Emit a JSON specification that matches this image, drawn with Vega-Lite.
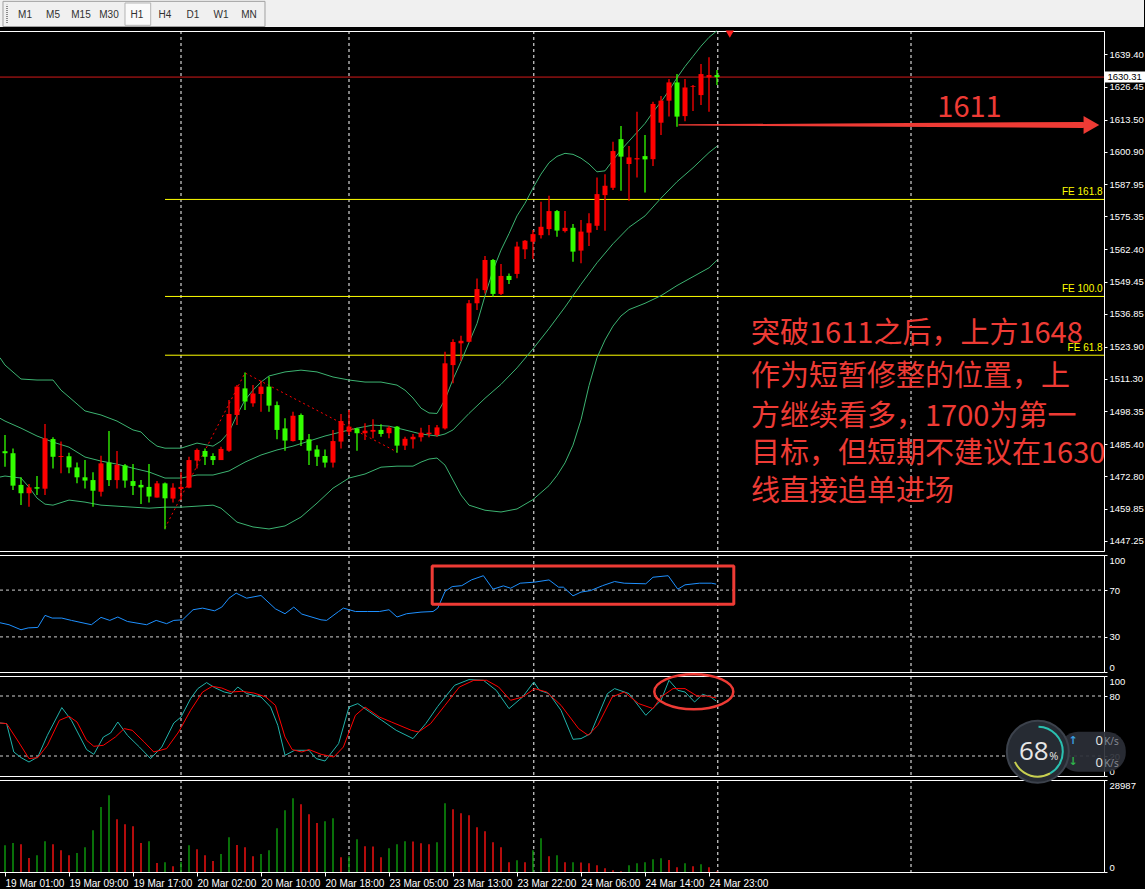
{
"$schema":"https://vega.github.io/schema/vega-lite/v6.json",
"background":"#000000",
"padding":{"left":-2,"top":0,"right":0,"bottom":0},
"bounds":"flush",
"spacing":4,
"config":{
 "view":{"stroke":"#ffffff","strokeWidth":1,"strokeJoin":"bevel"},
 "axis":{"labelColor":"#ffffff","tickColor":"#ffffff","domainColor":"#ffffff","labelFont":"Liberation Sans","labelFontSize":9.5,"grid":false,"tickSize":3,"labelPadding":2},
 "text":{"font":"Liberation Sans"}
},
"resolve":{"scale":{"x":"independent","y":"independent","color":"independent","size":"independent"}},
"datasets":{
 "grid":[{"i":22},{"i":43},{"i":66.1},{"i":89.1},{"i":113.25}],
 "k":[{"i":0,"o":1482.6,"h":1489.0,"l":1476.5,"c":1481.8},{"i":1,"o":1481.8,"h":1483.7,"l":1467.3,"c":1469.0},{"i":2,"o":1469.3,"h":1472.3,"l":1461.4,"c":1466.0},{"i":3,"o":1466.0,"h":1469.7,"l":1460.7,"c":1468.3},{"i":4,"o":1468.4,"h":1472.8,"l":1465.3,"c":1467.8},{"i":5,"o":1467.8,"h":1493.3,"l":1465.3,"c":1487.7},{"i":6,"o":1487.4,"h":1488.1,"l":1475.8,"c":1480.4},{"i":7,"o":1480.3,"h":1486.4,"l":1473.9,"c":1480.7},{"i":8,"o":1480.6,"h":1482.0,"l":1473.9,"c":1476.2},{"i":9,"o":1476.2,"h":1478.1,"l":1469.9,"c":1472.3},{"i":10,"o":1472.3,"h":1479.1,"l":1467.9,"c":1471.0},{"i":11,"o":1471.2,"h":1474.3,"l":1460.7,"c":1467.0},{"i":12,"o":1466.6,"h":1480.8,"l":1464.7,"c":1477.8},{"i":13,"o":1478.1,"h":1490.6,"l":1468.9,"c":1471.2},{"i":14,"o":1471.2,"h":1482.7,"l":1467.9,"c":1477.2},{"i":15,"o":1477.0,"h":1477.5,"l":1468.2,"c":1471.0},{"i":16,"o":1470.8,"h":1477.5,"l":1465.3,"c":1468.9},{"i":17,"o":1469.3,"h":1471.2,"l":1461.8,"c":1468.3},{"i":18,"o":1468.5,"h":1477.5,"l":1462.3,"c":1464.7},{"i":19,"o":1464.3,"h":1470.8,"l":1464.3,"c":1469.9},{"i":20,"o":1469.9,"h":1470.2,"l":1451.8,"c":1464.0},{"i":21,"o":1463.9,"h":1469.9,"l":1462.3,"c":1468.2},{"i":22,"o":1467.7,"h":1474.3,"l":1463.3,"c":1468.5},{"i":23,"o":1468.2,"h":1480.4,"l":1468.0,"c":1479.1},{"i":24,"o":1478.9,"h":1483.7,"l":1475.8,"c":1483.1},{"i":25,"o":1482.7,"h":1483.7,"l":1477.2,"c":1480.4},{"i":26,"o":1480.7,"h":1481.8,"l":1477.2,"c":1479.1},{"i":27,"o":1479.1,"h":1484.4,"l":1479.1,"c":1483.5},{"i":28,"o":1482.8,"h":1502.8,"l":1482.4,"c":1497.3},{"i":29,"o":1496.9,"h":1508.7,"l":1492.9,"c":1508.1},{"i":30,"o":1507.4,"h":1513.7,"l":1498.9,"c":1502.2},{"i":31,"o":1501.5,"h":1508.7,"l":1500.2,"c":1505.4},{"i":32,"o":1505.2,"h":1510.4,"l":1498.2,"c":1508.1},{"i":33,"o":1508.1,"h":1512.0,"l":1498.2,"c":1500.6},{"i":34,"o":1500.8,"h":1502.2,"l":1487.3,"c":1491.0},{"i":35,"o":1491.6,"h":1495.6,"l":1482.8,"c":1486.8},{"i":36,"o":1486.6,"h":1498.2,"l":1486.4,"c":1496.6},{"i":37,"o":1496.9,"h":1497.5,"l":1484.7,"c":1487.0},{"i":38,"o":1487.3,"h":1489.4,"l":1477.2,"c":1482.8},{"i":39,"o":1483.3,"h":1485.0,"l":1476.8,"c":1480.4},{"i":40,"o":1480.7,"h":1483.3,"l":1476.2,"c":1478.1},{"i":41,"o":1478.1,"h":1491.0,"l":1476.2,"c":1486.6},{"i":42,"o":1486.4,"h":1497.3,"l":1483.7,"c":1494.5},{"i":43,"o":1490.3,"h":1498.9,"l":1489.0,"c":1492.3},{"i":44,"o":1491.6,"h":1491.9,"l":1482.8,"c":1489.7},{"i":45,"o":1489.7,"h":1493.6,"l":1487.0,"c":1490.7},{"i":46,"o":1490.3,"h":1495.2,"l":1487.7,"c":1491.0},{"i":47,"o":1491.0,"h":1493.2,"l":1488.3,"c":1489.4},{"i":48,"o":1489.7,"h":1492.6,"l":1487.7,"c":1491.9},{"i":49,"o":1492.3,"h":1492.6,"l":1482.0,"c":1484.8},{"i":50,"o":1484.8,"h":1488.3,"l":1483.1,"c":1487.5},{"i":51,"o":1487.3,"h":1489.4,"l":1483.7,"c":1488.3},{"i":52,"o":1488.1,"h":1491.9,"l":1486.4,"c":1489.9},{"i":53,"o":1489.4,"h":1492.9,"l":1488.1,"c":1489.9},{"i":54,"o":1489.0,"h":1492.9,"l":1488.3,"c":1492.0},{"i":55,"o":1491.6,"h":1521.9,"l":1491.2,"c":1517.3},{"i":56,"o":1516.6,"h":1526.8,"l":1509.4,"c":1525.7},{"i":57,"o":1525.2,"h":1528.2,"l":1518.3,"c":1526.2},{"i":58,"o":1525.8,"h":1542.3,"l":1525.6,"c":1541.0},{"i":59,"o":1541.0,"h":1550.8,"l":1538.3,"c":1546.6},{"i":60,"o":1546.2,"h":1559.7,"l":1544.9,"c":1558.1},{"i":61,"o":1558.1,"h":1558.5,"l":1543.6,"c":1544.7},{"i":62,"o":1544.7,"h":1556.5,"l":1544.3,"c":1551.8},{"i":63,"o":1551.8,"h":1552.8,"l":1548.6,"c":1550.2},{"i":64,"o":1552.6,"h":1565.3,"l":1550.9,"c":1563.4},{"i":65,"o":1562.3,"h":1566.0,"l":1558.5,"c":1565.7},{"i":66,"o":1565.3,"h":1569.9,"l":1558.5,"c":1568.3},{"i":67,"o":1567.9,"h":1581.1,"l":1566.6,"c":1571.2},{"i":68,"o":1570.3,"h":1583.5,"l":1567.9,"c":1577.4},{"i":69,"o":1577.4,"h":1577.8,"l":1567.3,"c":1569.7},{"i":70,"o":1569.5,"h":1577.4,"l":1568.9,"c":1570.8},{"i":71,"o":1570.8,"h":1572.3,"l":1557.4,"c":1561.4},{"i":72,"o":1561.8,"h":1573.9,"l":1556.8,"c":1569.3},{"i":73,"o":1568.9,"h":1576.5,"l":1563.6,"c":1572.6},{"i":74,"o":1571.6,"h":1590.7,"l":1569.9,"c":1584.1},{"i":75,"o":1583.7,"h":1591.9,"l":1569.6,"c":1587.4},{"i":76,"o":1586.6,"h":1604.8,"l":1585.7,"c":1601.1},{"i":77,"o":1605.8,"h":1611.0,"l":1585.4,"c":1598.9},{"i":78,"o":1596.0,"h":1603.1,"l":1581.5,"c":1598.6},{"i":79,"o":1597.8,"h":1616.6,"l":1590.7,"c":1598.3},{"i":80,"o":1599.1,"h":1607.4,"l":1584.7,"c":1597.8},{"i":81,"o":1597.9,"h":1620.6,"l":1595.2,"c":1619.7},{"i":82,"o":1612.3,"h":1622.8,"l":1607.4,"c":1621.0},{"i":83,"o":1621.0,"h":1629.5,"l":1614.7,"c":1628.2},{"i":84,"o":1628.2,"h":1631.5,"l":1610.7,"c":1614.7},{"i":85,"o":1614.9,"h":1629.5,"l":1612.9,"c":1626.2},{"i":86,"o":1626.5,"h":1627.2,"l":1616.9,"c":1626.8},{"i":87,"o":1623.2,"h":1635.5,"l":1619.3,"c":1631.5},{"i":88,"o":1630.2,"h":1638.1,"l":1616.6,"c":1631.1},{"i":89,"o":1631.1,"h":1633.1,"l":1627.2,"c":1630.3}],
 "bb":[
{"b":"u","i":-0.625,"p":1519.5},{"b":"u","i":0,"p":1516.6},{"b":"u","i":2,"p":1511.1},{"b":"u","i":4,"p":1510.7},{"b":"u","i":6,"p":1510.7},{"b":"u","i":7,"p":1506.7},{"b":"u","i":8,"p":1504.0},{"b":"u","i":10,"p":1498.5},{"b":"u","i":12,"p":1496.9},{"b":"u","i":14,"p":1494.5},{"b":"u","i":16,"p":1491.0},{"b":"u","i":17,"p":1490.2},{"b":"u","i":18,"p":1487.0},{"b":"u","i":19,"p":1484.6},{"b":"u","i":20,"p":1483.8},{"b":"u","i":22,"p":1483.8},{"b":"u","i":24,"p":1485.8},{"b":"u","i":26,"p":1484.6},{"b":"u","i":27,"p":1486.6},{"b":"u","i":28,"p":1490.2},{"b":"u","i":29,"p":1496.9},{"b":"u","i":30,"p":1502.8},{"b":"u","i":31,"p":1506.7},{"b":"u","i":32,"p":1509.9},{"b":"u","i":33,"p":1512.3},{"b":"u","i":35,"p":1513.9},{"b":"u","i":37,"p":1514.6},{"b":"u","i":39,"p":1513.9},{"b":"u","i":41,"p":1511.9},{"b":"u","i":43,"p":1510.7},{"b":"u","i":45,"p":1509.9},{"b":"u","i":47,"p":1509.9},{"b":"u","i":49,"p":1508.7},{"b":"u","i":50,"p":1506.7},{"b":"u","i":51,"p":1503.6},{"b":"u","i":52,"p":1499.6},{"b":"u","i":53,"p":1497.7},{"b":"u","i":54,"p":1497.5},{"b":"u","i":55,"p":1503},{"b":"u","i":56,"p":1511},{"b":"u","i":57,"p":1518},{"b":"u","i":58,"p":1525.5},{"b":"u","i":59,"p":1533},{"b":"u","i":60,"p":1544},{"b":"u","i":61,"p":1554},{"b":"u","i":62,"p":1562},{"b":"u","i":63,"p":1568.5},{"b":"u","i":64,"p":1575.5},{"b":"u","i":65,"p":1580.5},{"b":"u","i":66,"p":1586.5},{"b":"u","i":67,"p":1592},{"b":"u","i":68,"p":1596.5},{"b":"u","i":69,"p":1599},{"b":"u","i":70,"p":1600.2},{"b":"u","i":71,"p":1599.8},{"b":"u","i":72,"p":1598.3},{"b":"u","i":73,"p":1596},{"b":"u","i":74,"p":1592.9},{"b":"u","i":75,"p":1593.3},{"b":"u","i":76,"p":1597.5},{"b":"u","i":77,"p":1601.5},{"b":"u","i":78,"p":1605},{"b":"u","i":79,"p":1608.5},{"b":"u","i":80,"p":1612},{"b":"u","i":81,"p":1616.5},{"b":"u","i":82,"p":1620.5},{"b":"u","i":83,"p":1625},{"b":"u","i":84,"p":1630},{"b":"u","i":85,"p":1634.5},{"b":"u","i":86,"p":1638.5},{"b":"u","i":87,"p":1642.5},{"b":"u","i":88,"p":1646},{"b":"u","i":89,"p":1648.6},
{"b":"m","i":-0.625,"p":1495.6},{"b":"m","i":0,"p":1494.5},{"b":"m","i":2,"p":1491.7},{"b":"m","i":4,"p":1488.6},{"b":"m","i":6,"p":1486.2},{"b":"m","i":8,"p":1484.2},{"b":"m","i":10,"p":1480.3},{"b":"m","i":12,"p":1478.7},{"b":"m","i":14,"p":1477.5},{"b":"m","i":16,"p":1475.9},{"b":"m","i":18,"p":1474.4},{"b":"m","i":20,"p":1472.0},{"b":"m","i":22,"p":1472.0},{"b":"m","i":24,"p":1473.2},{"b":"m","i":26,"p":1473.2},{"b":"m","i":28,"p":1474.8},{"b":"m","i":30,"p":1478.3},{"b":"m","i":32,"p":1481.1},{"b":"m","i":34,"p":1483.1},{"b":"m","i":36,"p":1484.6},{"b":"m","i":38,"p":1486.6},{"b":"m","i":40,"p":1488.6},{"b":"m","i":42,"p":1490.2},{"b":"m","i":44,"p":1491.7},{"b":"m","i":46,"p":1492.9},{"b":"m","i":48,"p":1492.5},{"b":"m","i":50,"p":1491.0},{"b":"m","i":52,"p":1489.4},{"b":"m","i":54,"p":1488.6},{"b":"m","i":55,"p":1489.4},{"b":"m","i":56,"p":1491.0},{"b":"m","i":58,"p":1497.5},{"b":"m","i":60,"p":1503.5},{"b":"m","i":62,"p":1509},{"b":"m","i":64,"p":1515.5},{"b":"m","i":66,"p":1523},{"b":"m","i":68,"p":1531},{"b":"m","i":70,"p":1539.5},{"b":"m","i":72,"p":1548.5},{"b":"m","i":74,"p":1557},{"b":"m","i":76,"p":1564.5},{"b":"m","i":78,"p":1571},{"b":"m","i":80,"p":1575.5},{"b":"m","i":82,"p":1582.5},{"b":"m","i":84,"p":1589},{"b":"m","i":86,"p":1594.5},{"b":"m","i":88,"p":1600.5},{"b":"m","i":89,"p":1603},
{"b":"l","i":-0.625,"p":1472.4},{"b":"l","i":0,"p":1472.8},{"b":"l","i":2,"p":1472.0},{"b":"l","i":3,"p":1468.4},{"b":"l","i":4,"p":1464.1},{"b":"l","i":5,"p":1461.7},{"b":"l","i":6,"p":1461.3},{"b":"l","i":8,"p":1463.3},{"b":"l","i":10,"p":1462.5},{"b":"l","i":12,"p":1461.3},{"b":"l","i":14,"p":1460.9},{"b":"l","i":16,"p":1460.5},{"b":"l","i":18,"p":1460.1},{"b":"l","i":20,"p":1460.5},{"b":"l","i":22,"p":1460.5},{"b":"l","i":24,"p":1460.9},{"b":"l","i":26,"p":1461.3},{"b":"l","i":27,"p":1460.1},{"b":"l","i":28,"p":1457.4},{"b":"l","i":29,"p":1454.6},{"b":"l","i":31,"p":1452.7},{"b":"l","i":33,"p":1451.9},{"b":"l","i":35,"p":1453.1},{"b":"l","i":37,"p":1456.6},{"b":"l","i":39,"p":1462.1},{"b":"l","i":41,"p":1468.0},{"b":"l","i":43,"p":1472.0},{"b":"l","i":45,"p":1473.6},{"b":"l","i":47,"p":1476.3},{"b":"l","i":49,"p":1476.7},{"b":"l","i":51,"p":1476.7},{"b":"l","i":52,"p":1478.3},{"b":"l","i":53,"p":1479.5},{"b":"l","i":54,"p":1479.9},{"b":"l","i":55,"p":1477.1},{"b":"l","i":56,"p":1471.2},{"b":"l","i":57,"p":1465.3},{"b":"l","i":58,"p":1461.3},{"b":"l","i":60,"p":1459.3},{"b":"l","i":62,"p":1458.6},{"b":"l","i":64,"p":1459.8},{"b":"l","i":66,"p":1463.5},{"b":"l","i":68,"p":1469},{"b":"l","i":69,"p":1473},{"b":"l","i":70,"p":1478},{"b":"l","i":71,"p":1485},{"b":"l","i":72,"p":1495},{"b":"l","i":73,"p":1508.5},{"b":"l","i":74,"p":1519.5},{"b":"l","i":75,"p":1526.5},{"b":"l","i":76,"p":1532},{"b":"l","i":77,"p":1536},{"b":"l","i":78,"p":1538.5},{"b":"l","i":80,"p":1541},{"b":"l","i":82,"p":1544},{"b":"l","i":84,"p":1548},{"b":"l","i":86,"p":1551.5},{"b":"l","i":88,"p":1555},{"b":"l","i":89,"p":1558}],
 "rsi":[{"i":-0.625,"v":42.1},{"i":0.5,"v":40.4},{"i":2,"v":36.1},{"i":2.9,"v":37.7},{"i":4.1,"v":38.1},{"i":5,"v":48.4},{"i":5.9,"v":46.1},{"i":7.1,"v":46.1},{"i":8.3,"v":44.1},{"i":10.8,"v":40.4},{"i":12,"v":46.7},{"i":13.1,"v":44.1},{"i":14.1,"v":47.0},{"i":15.3,"v":43.2},{"i":17.7,"v":40.4},{"i":18.9,"v":44.1},{"i":20.2,"v":41.3},{"i":21.1,"v":44.1},{"i":22.2,"v":44.6},{"i":23.5,"v":53.2},{"i":24.7,"v":54.6},{"i":26.2,"v":52.3},{"i":27.1,"v":55.5},{"i":28,"v":63.1},{"i":28.9,"v":67.4},{"i":30.2,"v":63.1},{"i":32,"v":65.4},{"i":33.8,"v":54.0},{"i":35,"v":49.8},{"i":36.1,"v":55.5},{"i":37.1,"v":49.5},{"i":39.5,"v":44.6},{"i":40.2,"v":44.1},{"i":41.7,"v":51.7},{"i":42.3,"v":54.6},{"i":43.8,"v":51.7},{"i":45.3,"v":51.7},{"i":46.8,"v":51.7},{"i":48,"v":53.2},{"i":49,"v":47.0},{"i":50.2,"v":49.8},{"i":52,"v":51.2},{"i":53.5,"v":51.7},{"i":54.1,"v":54.6},{"i":55,"v":68.8},{"i":55.9,"v":73.0},{"i":57.1,"v":73.8},{"i":58.3,"v":78.7},{"i":59.8,"v":82.3},{"i":61,"v":70.8},{"i":62.3,"v":73.6},{"i":63.2,"v":71.6},{"i":64.4,"v":75.9},{"i":66.2,"v":76.8},{"i":68,"v":78.7},{"i":69.2,"v":72.5},{"i":69.8,"v":72.5},{"i":71,"v":65.1},{"i":72,"v":68.3},{"i":73.2,"v":69.6},{"i":74.7,"v":73.8},{"i":76.2,"v":77.3},{"i":77.4,"v":75.9},{"i":80.1,"v":75.4},{"i":81,"v":81.0},{"i":82.9,"v":82.3},{"i":84.1,"v":70.8},{"i":85,"v":74.5},{"i":86.8,"v":75.9},{"i":88.3,"v":75.9},{"i":88.9,"v":75.1}],
 "st":[
{"s":"m","i":-0.625,"v":53},{"s":"m","i":0.2,"v":52.4},{"s":"m","i":1.1,"v":24},{"s":"m","i":2,"v":18.4},{"s":"m","i":3,"v":14},{"s":"m","i":4.1,"v":19},{"s":"m","i":5.3,"v":40.7},{"s":"m","i":7.1,"v":68.4},{"s":"m","i":8.3,"v":55.7},{"s":"m","i":10.2,"v":26.4},{"s":"m","i":11.1,"v":21.7},{"s":"m","i":12.3,"v":39},{"s":"m","i":13.2,"v":43},{"s":"m","i":14.1,"v":54},{"s":"m","i":15.3,"v":40.7},{"s":"m","i":16.8,"v":29},{"s":"m","i":18.2,"v":17.4},{"s":"m","i":19.6,"v":29},{"s":"m","i":21.1,"v":53},{"s":"m","i":22,"v":59},{"s":"m","i":23.2,"v":77.4},{"s":"m","i":24.1,"v":87.4},{"s":"m","i":25.2,"v":93.4},{"s":"m","i":26.2,"v":88.4},{"s":"m","i":27.4,"v":84},{"s":"m","i":28.3,"v":82.4},{"s":"m","i":29.1,"v":89},{"s":"m","i":30.2,"v":82.4},{"s":"m","i":32,"v":79},{"s":"m","i":33.2,"v":69},{"s":"m","i":34.1,"v":50.7},{"s":"m","i":35,"v":20.7},{"s":"m","i":36.2,"v":25.7},{"s":"m","i":38,"v":25.7},{"s":"m","i":38.9,"v":17.4},{"s":"m","i":40,"v":15},{"s":"m","i":41.7,"v":32.4},{"s":"m","i":43,"v":69},{"s":"m","i":44.1,"v":72.4},{"s":"m","i":45.6,"v":64},{"s":"m","i":47.1,"v":55.7},{"s":"m","i":48.9,"v":45.7},{"s":"m","i":51,"v":37.4},{"s":"m","i":52.6,"v":52.4},{"s":"m","i":54.1,"v":69.7},{"s":"m","i":56.2,"v":90.7},{"s":"m","i":58,"v":96.4},{"s":"m","i":59.8,"v":95.7},{"s":"m","i":61.4,"v":85.7},{"s":"m","i":63,"v":67.4},{"s":"m","i":64.7,"v":79},{"s":"m","i":66.1,"v":94},{"s":"m","i":66.8,"v":85.7},{"s":"m","i":68,"v":82.4},{"s":"m","i":69.5,"v":65.7},{"s":"m","i":71,"v":36.7},{"s":"m","i":72,"v":37.4},{"s":"m","i":73.2,"v":42.4},{"s":"m","i":75.3,"v":82.4},{"s":"m","i":76.2,"v":87.4},{"s":"m","i":78,"v":82.4},{"s":"m","i":80.1,"v":60.7},{"s":"m","i":82,"v":75.7},{"s":"m","i":83,"v":95.7},{"s":"m","i":84.1,"v":85.7},{"s":"m","i":85,"v":84},{"s":"m","i":86.2,"v":74},{"s":"m","i":87.2,"v":81.7},{"s":"m","i":88.2,"v":79},{"s":"m","i":88.9,"v":75},
{"s":"s","i":-0.625,"v":53},{"s":"s","i":0.2,"v":52.4},{"s":"s","i":1.7,"v":34},{"s":"s","i":3,"v":17.4},{"s":"s","i":4.1,"v":18.4},{"s":"s","i":5.3,"v":30.7},{"s":"s","i":6.8,"v":55.7},{"s":"s","i":8,"v":59.7},{"s":"s","i":9,"v":54},{"s":"s","i":10.2,"v":35.7},{"s":"s","i":11.1,"v":29.7},{"s":"s","i":12.3,"v":30.7},{"s":"s","i":13.8,"v":39},{"s":"s","i":14.9,"v":47.4},{"s":"s","i":15.9,"v":45.7},{"s":"s","i":17.4,"v":34},{"s":"s","i":18.6,"v":24},{"s":"s","i":20.2,"v":27.4},{"s":"s","i":21.7,"v":44},{"s":"s","i":23.2,"v":65.7},{"s":"s","i":24.7,"v":84},{"s":"s","i":25.9,"v":89.7},{"s":"s","i":27.1,"v":88},{"s":"s","i":28.3,"v":84},{"s":"s","i":29.6,"v":84.7},{"s":"s","i":31.1,"v":83},{"s":"s","i":32.6,"v":79},{"s":"s","i":33.8,"v":70.7},{"s":"s","i":35,"v":39},{"s":"s","i":35.9,"v":26.4},{"s":"s","i":37.1,"v":24},{"s":"s","i":38,"v":26.4},{"s":"s","i":39.5,"v":21.7},{"s":"s","i":41.1,"v":19},{"s":"s","i":42.3,"v":29},{"s":"s","i":43.8,"v":60.7},{"s":"s","i":45,"v":69},{"s":"s","i":46.8,"v":59},{"s":"s","i":48.3,"v":54},{"s":"s","i":50.8,"v":45.7},{"s":"s","i":51.7,"v":44},{"s":"s","i":53.2,"v":52.4},{"s":"s","i":55,"v":70.7},{"s":"s","i":56.8,"v":89},{"s":"s","i":58.6,"v":95.7},{"s":"s","i":60.2,"v":95.7},{"s":"s","i":61.7,"v":89},{"s":"s","i":63.2,"v":75.7},{"s":"s","i":64.7,"v":79},{"s":"s","i":66.2,"v":87.4},{"s":"s","i":67.7,"v":84},{"s":"s","i":69.5,"v":70.7},{"s":"s","i":71.7,"v":47.4},{"s":"s","i":72.9,"v":40.7},{"s":"s","i":74.1,"v":50.7},{"s":"s","i":75.9,"v":79},{"s":"s","i":77.4,"v":84},{"s":"s","i":79.2,"v":72.4},{"s":"s","i":81,"v":67.4},{"s":"s","i":82,"v":79},{"s":"s","i":83.5,"v":87.4},{"s":"s","i":85,"v":87.4},{"s":"s","i":86.5,"v":80},{"s":"s","i":87.7,"v":80},{"s":"s","i":88.9,"v":78}],
 "vol":[{"i":0,"v":8400,"d":"u"},{"i":1,"v":9135,"d":"u"},{"i":2,"v":8715,"d":"d"},{"i":3,"v":4410,"d":"d"},{"i":4,"v":5250,"d":"u"},{"i":5,"v":9660,"d":"u"},{"i":6,"v":8715,"d":"d"},{"i":7,"v":6825,"d":"d"},{"i":8,"v":5250,"d":"d"},{"i":9,"v":5985,"d":"u"},{"i":10,"v":7770,"d":"u"},{"i":11,"v":13125,"d":"u"},{"i":12,"v":20475,"d":"u"},{"i":13,"v":24150,"d":"u"},{"i":14,"v":16590,"d":"d"},{"i":15,"v":15015,"d":"d"},{"i":16,"v":14385,"d":"d"},{"i":17,"v":9135,"d":"d"},{"i":18,"v":9660,"d":"u"},{"i":19,"v":2835,"d":"d"},{"i":20,"v":3045,"d":"u"},{"i":21,"v":1785,"d":"d"},{"i":22,"v":3150,"d":"u"},{"i":23,"v":8400,"d":"u"},{"i":24,"v":7140,"d":"d"},{"i":25,"v":5250,"d":"d"},{"i":26,"v":3465,"d":"d"},{"i":27,"v":5670,"d":"u"},{"i":28,"v":10920,"d":"u"},{"i":29,"v":8505,"d":"d"},{"i":30,"v":7770,"d":"d"},{"i":31,"v":4935,"d":"d"},{"i":32,"v":5670,"d":"u"},{"i":33,"v":6825,"d":"u"},{"i":34,"v":13755,"d":"u"},{"i":35,"v":19425,"d":"u"},{"i":36,"v":23205,"d":"u"},{"i":37,"v":21315,"d":"d"},{"i":38,"v":18165,"d":"d"},{"i":39,"v":15435,"d":"d"},{"i":40,"v":15960,"d":"u"},{"i":41,"v":16905,"d":"u"},{"i":42,"v":4620,"d":"d"},{"i":43,"v":4935,"d":"u"},{"i":44,"v":10290,"d":"u"},{"i":45,"v":8085,"d":"d"},{"i":46,"v":8000,"d":"d"},{"i":47,"v":4620,"d":"d"},{"i":48,"v":7455,"d":"u"},{"i":49,"v":8715,"d":"u"},{"i":50,"v":9660,"d":"u"},{"i":51,"v":9600,"d":"d"},{"i":52,"v":9030,"d":"d"},{"i":53,"v":8715,"d":"d"},{"i":54,"v":9345,"d":"u"},{"i":55,"v":21630,"d":"u"},{"i":56,"v":19740,"d":"d"},{"i":57,"v":18480,"d":"d"},{"i":58,"v":17850,"d":"d"},{"i":59,"v":14070,"d":"d"},{"i":60,"v":12810,"d":"d"},{"i":61,"v":9345,"d":"d"},{"i":62,"v":7770,"d":"d"},{"i":63,"v":3045,"d":"d"},{"i":64,"v":3675,"d":"u"},{"i":65,"v":3045,"d":"d"},{"i":66,"v":6825,"d":"u"},{"i":67,"v":10605,"d":"u"},{"i":68,"v":4935,"d":"d"},{"i":69,"v":5250,"d":"u"},{"i":70,"v":3045,"d":"d"},{"i":71,"v":3100,"d":"u"},{"i":72,"v":3000,"d":"d"},{"i":73,"v":2730,"d":"d"},{"i":74,"v":2100,"d":"d"},{"i":75,"v":1155,"d":"d"},{"i":76,"v":525,"d":"d"},{"i":77,"v":210,"d":"d"},{"i":78,"v":2100,"d":"u"},{"i":79,"v":2730,"d":"u"},{"i":80,"v":3045,"d":"u"},{"i":81,"v":3990,"d":"u"},{"i":82,"v":4305,"d":"u"},{"i":83,"v":3780,"d":"d"},{"i":84,"v":1470,"d":"d"},{"i":85,"v":2730,"d":"u"},{"i":86,"v":1785,"d":"d"},{"i":87,"v":2415,"d":"u"},{"i":88,"v":1470,"d":"d"},{"i":89,"v":210,"d":"d"}]
},
"vconcat":[
 {
  "width":1145,"height":27,
  "view":{"stroke":null,"fill":"#f0f0f0"},
  "encoding":{
   "x":{"field":"s","type":"quantitative","scale":{"domain":[-0.9286,39.964],"nice":false,"zero":false},"axis":null},
   "y":{"field":"y","type":"quantitative","scale":{"domain":[0,1],"nice":false,"zero":false},"axis":null}
  },
  "layer":[
   {"data":{"values":[{"s":-0.786,"s2":8.571,"y":0.018,"y2":0.95}]},"mark":{"type":"rect","fill":"#f0f0f0","stroke":"#a0a0a0","strokeWidth":1,"strokeJoin":"bevel"},"encoding":{"x2":{"field":"s2"},"y2":{"field":"y2"}}},
   {"data":{"values":[{"s":3.571,"s2":4.489,"y":0.063,"y2":0.889}]},"mark":{"type":"rect","fill":"#fafafa","stroke":"#b4b4b4","strokeWidth":1,"strokeJoin":"bevel"},"encoding":{"x2":{"field":"s2"},"y2":{"field":"y2"}}},
   {"data":{"values":[{"s":-0.643,"y":0.15,"y2":0.82}]},"mark":{"type":"rule","stroke":"#8c8c8c","strokeWidth":2,"strokeDash":[1,1]},"encoding":{"y2":{"field":"y2"}}},
   {"data":{"values":[{"s":0,"y":0.444,"t":"M1"},{"s":1,"y":0.444,"t":"M5"},{"s":2,"y":0.444,"t":"M15"},{"s":3,"y":0.444,"t":"M30"},{"s":4,"y":0.444,"t":"H1"},{"s":5,"y":0.444,"t":"H4"},{"s":6,"y":0.444,"t":"D1"},{"s":7,"y":0.444,"t":"W1"},{"s":8,"y":0.444,"t":"MN"}]},"mark":{"type":"text","fontSize":10,"color":"#303030","align":"center","baseline":"middle","font":"Liberation Sans"},"encoding":{"text":{"field":"t"}}}
  ]
 },
 {
  "width":1105,"height":520,
  "encoding":{"x":{"field":"i","type":"quantitative","scale":{"domain":[-0.75,137.375],"nice":false,"zero":false},"axis":null}},
  "layer":[
   {"data":{"name":"grid"},"mark":{"type":"rule","stroke":"#ffffff","strokeWidth":1,"strokeDash":[3,3]},"encoding":{}},
   {"data":{"values":[{"i":20,"i2":137.375,"p":1582.0},{"i":20,"i2":137.375,"p":1543.7},{"i":20,"i2":137.375,"p":1520.5}]},"mark":{"type":"rule","stroke":"#ffff00","strokeWidth":1},"encoding":{"x2":{"field":"i2"},"y":{"field":"p","type":"quantitative","scale":{"domain":[1443.2,1648.5],"nice":false,"zero":false},"axis":{"orient":"right","values":[1447.25,1459.85,1472.8,1485.4,1498.35,1511.3,1523.9,1536.85,1549.45,1562.4,1575.35,1587.95,1600.9,1613.5,1626.45,1639.4],"format":".2f","title":null,"labelOverlap":false}}}},
   {"data":{"values":[{"i":137.2,"p":1582.8,"t":"FE 161.8"},{"i":137.2,"p":1544.5,"t":"FE 100.0"},{"i":137.2,"p":1521.3,"t":"FE 61.8"}]},"mark":{"type":"text","color":"#ffff00","fontSize":10,"align":"right","baseline":"bottom"},"encoding":{"y":{"field":"p","type":"quantitative","scale":{"domain":[1443.2,1648.5],"nice":false,"zero":false},"axis":{"orient":"right","values":[1447.25,1459.85,1472.8,1485.4,1498.35,1511.3,1523.9,1536.85,1549.45,1562.4,1575.35,1587.95,1600.9,1613.5,1626.45,1639.4],"format":".2f","title":null,"labelOverlap":false}},"text":{"field":"t"}}},
   {"data":{"values":[{"i":-0.625,"i2":137.375,"p":1630.31}]},"mark":{"type":"rule","stroke":"#d41a1a","strokeWidth":1},"encoding":{"x2":{"field":"i2"},"y":{"field":"p","type":"quantitative","scale":{"domain":[1443.2,1648.5],"nice":false,"zero":false},"axis":{"orient":"right","values":[1447.25,1459.85,1472.8,1485.4,1498.35,1511.3,1523.9,1536.85,1549.45,1562.4,1575.35,1587.95,1600.9,1613.5,1626.45,1639.4],"format":".2f","title":null,"labelOverlap":false}}}},
   {"data":{"name":"bb"},"mark":{"type":"line","stroke":"#3cb371","strokeWidth":1,"strokeJoin":"round"},"encoding":{"y":{"field":"p","type":"quantitative","scale":{"domain":[1443.2,1648.5],"nice":false,"zero":false},"axis":{"orient":"right","values":[1447.25,1459.85,1472.8,1485.4,1498.35,1511.3,1523.9,1536.85,1549.45,1562.4,1575.35,1587.95,1600.9,1613.5,1626.45,1639.4],"format":".2f","title":null,"labelOverlap":false}},"detail":{"field":"b"}}},
   {"data":{"values":[{"i":20,"p":1452.3,"o":0},{"i":30,"p":1513.5,"o":1},{"i":49,"p":1482.3,"o":2}]},"mark":{"type":"line","stroke":"#ff0000","strokeWidth":1,"strokeDash":[2,3],"strokeJoin":"round"},"encoding":{"y":{"field":"p","type":"quantitative","scale":{"domain":[1443.2,1648.5],"nice":false,"zero":false},"axis":{"orient":"right","values":[1447.25,1459.85,1472.8,1485.4,1498.35,1511.3,1523.9,1536.85,1549.45,1562.4,1575.35,1587.95,1600.9,1613.5,1626.45,1639.4],"format":".2f","title":null,"labelOverlap":false}},"order":{"field":"o"}}},
   {"data":{"name":"k"},"mark":{"type":"rule","strokeWidth":1.3},"encoding":{"y":{"field":"l","type":"quantitative","scale":{"domain":[1443.2,1648.5],"nice":false,"zero":false},"axis":{"orient":"right","values":[1447.25,1459.85,1472.8,1485.4,1498.35,1511.3,1523.9,1536.85,1549.45,1562.4,1575.35,1587.95,1600.9,1613.5,1626.45,1639.4],"format":".2f","title":null,"labelOverlap":false}},"y2":{"field":"h"},"color":{"condition":{"test":"datum.c >= datum.o","value":"#ff0000"},"value":"#33ff00"}}},
   {"data":{"name":"k"},"mark":{"type":"rule","strokeWidth":5,"strokeCap":"butt","strokeJoin":"bevel"},"encoding":{"y":{"field":"o","type":"quantitative","scale":{"domain":[1443.2,1648.5],"nice":false,"zero":false},"axis":{"orient":"right","values":[1447.25,1459.85,1472.8,1485.4,1498.35,1511.3,1523.9,1536.85,1549.45,1562.4,1575.35,1587.95,1600.9,1613.5,1626.45,1639.4],"format":".2f","title":null,"labelOverlap":false}},"y2":{"field":"c"},"color":{"condition":{"test":"datum.c >= datum.o","value":"#ff0000"},"value":"#33ff00"}}},
   {"data":{"values":[{"i":90.6,"p":1647.3}]},"mark":{"type":"point","shape":"triangle-down","filled":true,"color":"#ff2020","size":70,"opacity":1},"encoding":{"y":{"field":"p","type":"quantitative","scale":{"domain":[1443.2,1648.5],"nice":false,"zero":false},"axis":{"orient":"right","values":[1447.25,1459.85,1472.8,1485.4,1498.35,1511.3,1523.9,1536.85,1549.45,1562.4,1575.35,1587.95,1600.9,1613.5,1626.45,1639.4],"format":".2f","title":null,"labelOverlap":false}}}},
   {"data":{"values":[{"i":84.25,"p":1611.4,"w":1.2},{"i":134.7,"p":1611.4,"w":6}]},"mark":{"type":"trail","color":"#ee3b35","opacity":1},"encoding":{"y":{"field":"p","type":"quantitative","scale":{"domain":[1443.2,1648.5],"nice":false,"zero":false},"axis":{"orient":"right","values":[1447.25,1459.85,1472.8,1485.4,1498.35,1511.3,1523.9,1536.85,1549.45,1562.4,1575.35,1587.95,1600.9,1613.5,1626.45,1639.4],"format":".2f","title":null,"labelOverlap":false}},"size":{"field":"w","type":"quantitative","scale":{"type":"linear","domain":[0,10],"range":[0,10],"zero":true,"nice":false},"legend":null}}},
   {"data":{"values":[{"i":135.8,"p":1611.4}]},"mark":{"type":"point","shape":"triangle-right","filled":true,"color":"#ee3b35","size":330,"opacity":1},"encoding":{"y":{"field":"p","type":"quantitative","scale":{"domain":[1443.2,1648.5],"nice":false,"zero":false},"axis":{"orient":"right","values":[1447.25,1459.85,1472.8,1485.4,1498.35,1511.3,1523.9,1536.85,1549.45,1562.4,1575.35,1587.95,1600.9,1613.5,1626.45,1639.4],"format":".2f","title":null,"labelOverlap":false}}}},
   {"data":{"values":[{"i":120.56,"p":1618.1,"t":"1611"}]},"mark":{"type":"text","color":"#ee3b35","fontSize":29,"align":"center","baseline":"middle","font":"Noto Sans CJK SC"},"encoding":{"y":{"field":"p","type":"quantitative","scale":{"domain":[1443.2,1648.5],"nice":false,"zero":false},"axis":{"orient":"right","values":[1447.25,1459.85,1472.8,1485.4,1498.35,1511.3,1523.9,1536.85,1549.45,1562.4,1575.35,1587.95,1600.9,1613.5,1626.45,1639.4],"format":".2f","title":null,"labelOverlap":false}},"text":{"field":"t"}}},
   {"data":{"values":[{"i":93.25,"p":1528.9,"t":"突破1611之后，上方1648"},{"i":93.25,"p":1511.9,"t":"作为短暂修整的位置，上"},{"i":93.25,"p":1496.1,"t":"方继续看多，1700为第一"},{"i":93.25,"p":1481.5,"t":"目标，但短期不建议在1630"},{"i":93.25,"p":1466.5,"t":"线直接追单进场"}]},"mark":{"type":"text","color":"#ee3b35","fontSize":29,"align":"left","baseline":"middle","font":"Noto Sans CJK SC"},"encoding":{"y":{"field":"p","type":"quantitative","scale":{"domain":[1443.2,1648.5],"nice":false,"zero":false},"axis":{"orient":"right","values":[1447.25,1459.85,1472.8,1485.4,1498.35,1511.3,1523.9,1536.85,1549.45,1562.4,1575.35,1587.95,1600.9,1613.5,1626.45,1639.4],"format":".2f","title":null,"labelOverlap":false}},"text":{"field":"t"}}},
   {"data":{"values":[{"i":137.5,"i2":142.6,"p":1632.5,"p2":1628.2}]},"mark":{"type":"rect","fill":"#ffffff"},"encoding":{"x2":{"field":"i2"},"y":{"field":"p","type":"quantitative","scale":{"domain":[1443.2,1648.5],"nice":false,"zero":false},"axis":{"orient":"right","values":[1447.25,1459.85,1472.8,1485.4,1498.35,1511.3,1523.9,1536.85,1549.45,1562.4,1575.35,1587.95,1600.9,1613.5,1626.45,1639.4],"format":".2f","title":null,"labelOverlap":false}},"y2":{"field":"p2"}}},
   {"data":{"values":[{"i":137.8,"p":1630.31,"t":"1630.31"}]},"mark":{"type":"text","color":"#000000","fontSize":9.5,"align":"left","baseline":"middle"},"encoding":{"y":{"field":"p","type":"quantitative","scale":{"domain":[1443.2,1648.5],"nice":false,"zero":false},"axis":{"orient":"right","values":[1447.25,1459.85,1472.8,1485.4,1498.35,1511.3,1523.9,1536.85,1549.45,1562.4,1575.35,1587.95,1600.9,1613.5,1626.45,1639.4],"format":".2f","title":null,"labelOverlap":false}},"text":{"field":"t"}}}
  ]
 },
 {
  "width":1105,"height":117,
  "encoding":{"x":{"field":"i","type":"quantitative","scale":{"domain":[-0.75,137.375],"nice":false,"zero":false},"axis":null}},
  "layer":[
   {"data":{"name":"grid"},"mark":{"type":"rule","stroke":"#ffffff","strokeWidth":1,"strokeDash":[3,3]},"encoding":{}},
   {"data":{"values":[{"i":-0.625,"i2":137.375,"v":70},{"i":-0.625,"i2":137.375,"v":30}]},"mark":{"type":"rule","stroke":"#d0d0d0","strokeWidth":1,"strokeDash":[3,3]},"encoding":{"x2":{"field":"i2"},"y":{"field":"v","type":"quantitative","scale":{"domain":[0,100],"nice":false,"zero":false},"axis":{"orient":"right","values":[0,30,70,100],"labelFlush":true,"title":null}}}},
   {"data":{"name":"rsi"},"mark":{"type":"line","stroke":"#1e90ff","strokeWidth":1,"strokeJoin":"round"},"encoding":{"y":{"field":"v","type":"quantitative","scale":{"domain":[0,100],"nice":false,"zero":false},"axis":{"orient":"right","values":[0,30,70,100],"labelFlush":true,"title":null}}}},
   {"data":{"values":[{"i":53.4,"i2":91.1,"v":90.6,"v2":58.0}]},"mark":{"type":"rect","filled":false,"stroke":"#ee3b35","strokeWidth":3,"strokeJoin":"bevel"},"encoding":{"x2":{"field":"i2"},"y":{"field":"v","type":"quantitative","scale":{"domain":[0,100],"nice":false,"zero":false},"axis":{"orient":"right","values":[0,30,70,100],"labelFlush":true,"title":null}},"y2":{"field":"v2"}}}
  ]
 },
 {
  "width":1105,"height":100,
  "encoding":{"x":{"field":"i","type":"quantitative","scale":{"domain":[-0.75,137.375],"nice":false,"zero":false},"axis":null}},
  "layer":[
   {"data":{"name":"grid"},"mark":{"type":"rule","stroke":"#ffffff","strokeWidth":1,"strokeDash":[3,3]},"encoding":{}},
   {"data":{"values":[{"i":-0.625,"i2":137.375,"v":80},{"i":-0.625,"i2":137.375,"v":20}]},"mark":{"type":"rule","stroke":"#d0d0d0","strokeWidth":1,"strokeDash":[3,3]},"encoding":{"x2":{"field":"i2"},"y":{"field":"v","type":"quantitative","scale":{"domain":[0,100],"nice":false,"zero":false},"axis":{"orient":"right","values":[0,20,80,100],"labelFlush":true,"title":null}}}},
   {"data":{"name":"st"},"mark":{"type":"line","strokeWidth":1,"strokeJoin":"round"},"encoding":{"y":{"field":"v","type":"quantitative","scale":{"domain":[0,100],"nice":false,"zero":false},"axis":{"orient":"right","values":[0,20,80,100],"labelFlush":true,"title":null}},"detail":{"field":"s"},"color":{"condition":{"test":"datum.s == 'm'","value":"#20b2aa"},"value":"#ff0000"}}},
   {"data":{"values":[{"i":86.1,"v":84.2}]},"mark":{"type":"point","shape":"M -1 0 A 1 0.443 0 1 0 1 0 A 1 0.443 0 1 0 -1 0 Z","filled":false,"stroke":"#ee3b35","strokeWidth":2.5,"size":6241,"opacity":1},"encoding":{"y":{"field":"v","type":"quantitative","scale":{"domain":[0,100],"nice":false,"zero":false},"axis":{"orient":"right","values":[0,20,80,100],"labelFlush":true,"title":null}}}}
  ]
 },
 {
  "width":1105,"height":92,
  "encoding":{"x":{"field":"i","type":"quantitative","scale":{"domain":[-0.75,137.375],"nice":false,"zero":false},"axis":{"orient":"bottom","values":[0,8,16,24,32,40,48,56,64,72,80,88],"labelExpr":"['19 Mar 01:00','19 Mar 09:00','19 Mar 17:00','20 Mar 02:00','20 Mar 10:00','20 Mar 18:00','23 Mar 05:00','23 Mar 13:00','23 Mar 22:00','24 Mar 06:00','24 Mar 14:00','24 Mar 23:00'][round(datum.value/8)]","labelAlign":"left","labelBaseline":"top","tickSize":4,"labelPadding":2,"labelFontSize":10,"domain":false,"labelOverlap":false,"title":null}}},
  "layer":[
   {"data":{"name":"grid"},"mark":{"type":"rule","stroke":"#ffffff","strokeWidth":1,"strokeDash":[3,3]},"encoding":{}},
   {"data":{"name":"vol"},"mark":{"type":"rule","strokeWidth":1.5},"encoding":{"y":{"field":"v","type":"quantitative","scale":{"domain":[0,28987],"nice":false,"zero":false},"axis":{"orient":"right","values":[0,28987],"labelFlush":true,"format":"d","title":null}},"y2":{"datum":0},"color":{"condition":{"test":"datum.d == 'u'","value":"#0c960c"},"value":"#f01010"}}},
   {"data":{"values":[{"i":131.75,"i2":140.1,"v":44205,"v2":31603}]},"mark":{"type":"rect","fill":"#2b2f37","fillOpacity":0.92,"cornerRadius":19},"encoding":{"x2":{"field":"i2"},"y":{"field":"v","type":"quantitative","scale":{"domain":[0,28987],"nice":false,"zero":false},"axis":{"orient":"right","values":[0,28987],"labelFlush":true,"format":"d","title":null}},"y2":{"field":"v2"}}},
   {"data":{"values":[{"i":129.1,"v":37904}]},"mark":{"type":"point","shape":"circle","filled":true,"fill":"#262b33","stroke":"#3c424c","strokeWidth":2,"size":3844,"opacity":1},"encoding":{"y":{"field":"v","type":"quantitative","scale":{"domain":[0,28987],"nice":false,"zero":false},"axis":{"orient":"right","values":[0,28987],"labelFlush":true,"format":"d","title":null}}}},
   {"data":{"values":[{"i":129.1,"v":37904}]},"mark":{"type":"point","shape":"circle","filled":false,"stroke":"#2ac0b0","strokeWidth":2,"size":2500,"opacity":1,"strokeDash":[26.2,91.6,39.3,0]},"encoding":{"y":{"field":"v","type":"quantitative","scale":{"domain":[0,28987],"nice":false,"zero":false},"axis":{"orient":"right","values":[0,28987],"labelFlush":true,"format":"d","title":null}}}},
   {"data":{"values":[{"i":129.1,"v":37904}]},"mark":{"type":"point","shape":"circle","filled":false,"stroke":"#c8d050","strokeWidth":2,"size":2500,"opacity":1,"strokeDash":[0,26.2,41.4,89.5]},"encoding":{"y":{"field":"v","type":"quantitative","scale":{"domain":[0,28987],"nice":false,"zero":false},"axis":{"orient":"right","values":[0,28987],"labelFlush":true,"format":"d","title":null}}}},
   {"data":{"values":[{"i":128.6,"v":37810,"t":"68"}]},"mark":{"type":"text","color":"#e6e6e6","fontSize":26,"align":"center","baseline":"middle","font":"Open Sans"},"encoding":{"y":{"field":"v","type":"quantitative","scale":{"domain":[0,28987],"nice":false,"zero":false},"axis":{"orient":"right","values":[0,28987],"labelFlush":true,"format":"d","title":null}},"text":{"field":"t"}}},
   {"data":{"values":[{"i":131.1,"v":36235,"t":"%"}]},"mark":{"type":"text","color":"#e6e6e6","fontSize":11,"align":"center","baseline":"middle","font":"Open Sans"},"encoding":{"y":{"field":"v","type":"quantitative","scale":{"domain":[0,28987],"nice":false,"zero":false},"axis":{"orient":"right","values":[0,28987],"labelFlush":true,"format":"d","title":null}},"text":{"field":"t"}}},
   {"data":{"values":[{"i":133.5,"v":41275,"t":"↑"}]},"mark":{"type":"text","fontSize":11,"fontWeight":"bold","align":"center","baseline":"middle","font":"DejaVu Sans","color":"#3a9ee0"},"encoding":{"y":{"field":"v","type":"quantitative","scale":{"domain":[0,28987],"nice":false,"zero":false},"axis":{"orient":"right","values":[0,28987],"labelFlush":true,"format":"d","title":null}},"text":{"field":"t"}}},
   {"data":{"values":[{"i":133.5,"v":34658,"t":"↓"}]},"mark":{"type":"text","fontSize":11,"fontWeight":"bold","align":"center","baseline":"middle","font":"DejaVu Sans","color":"#2fb24a"},"encoding":{"y":{"field":"v","type":"quantitative","scale":{"domain":[0,28987],"nice":false,"zero":false},"axis":{"orient":"right","values":[0,28987],"labelFlush":true,"format":"d","title":null}},"text":{"field":"t"}}},
   {"data":{"values":[{"i":137.25,"v":41275,"t":"0"},{"i":137.25,"v":34343,"t":"0"}]},"mark":{"type":"text","color":"#e6e6e6","fontSize":13,"align":"right","baseline":"middle","font":"Open Sans"},"encoding":{"y":{"field":"v","type":"quantitative","scale":{"domain":[0,28987],"nice":false,"zero":false},"axis":{"orient":"right","values":[0,28987],"labelFlush":true,"format":"d","title":null}},"text":{"field":"t"}}},
   {"data":{"values":[{"i":137.4,"v":40960,"t":"K/s"},{"i":137.4,"v":34030,"t":"K/s"}]},"mark":{"type":"text","color":"#8a8f98","fontSize":10,"align":"left","baseline":"middle","font":"Open Sans"},"encoding":{"y":{"field":"v","type":"quantitative","scale":{"domain":[0,28987],"nice":false,"zero":false},"axis":{"orient":"right","values":[0,28987],"labelFlush":true,"format":"d","title":null}},"text":{"field":"t"}}}
  ]
 }
]
}
